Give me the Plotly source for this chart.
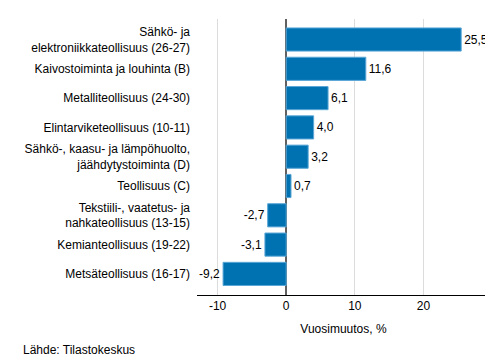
import plotly.graph_objects as go

categories = [
    "Sähkö- ja<br>elektroniikkateollisuus (26-27)",
    "Kaivostoiminta ja louhinta (B)",
    "Metalliteollisuus (24-30)",
    "Elintarviketeollisuus (10-11)",
    "Sähkö-, kaasu- ja lämpöhuolto,<br>jäähdytystoiminta (D)",
    "Teollisuus (C)",
    "Tekstiili-, vaatetus- ja<br>nahkateollisuus (13-15)",
    "Kemianteollisuus (19-22)",
    "Metsäteollisuus (16-17)",
]
values = [25.5, 11.6, 6.1, 4.0, 3.2, 0.7, -2.7, -3.1, -9.2]
tick_vals = [-10, 0, 10, 20]
tick_text = ["-10", "0", "10", "20"]

labels = [f"{v:.1f}".replace(".", ",") for v in values]

FONT = "Arial, Liberation Sans, sans-serif"

fig = go.Figure(go.Bar(
    x=values, y=categories, orientation="h",
    marker=dict(color="#0072b1", line=dict(color="#5aa6d6", width=1)),
    text=labels, textposition="outside", cliponaxis=False,
    textfont=dict(size=12, color="#000000", family=FONT),
    width=0.79,
))

fig.update_layout(
    template="none",
    width=493, height=360,
    margin=dict(l=189, r=11, t=11, b=73, pad=0),
    paper_bgcolor="white", plot_bgcolor="white",
    font=dict(family=FONT, size=12, color="#000000"),
    showlegend=False,
    xaxis=dict(
        range=[-13, 29.7], tickvals=tick_vals, ticktext=tick_text, ticks="",
        showgrid=True, gridcolor="#dcdcdc", gridwidth=1,
        zeroline=True, zerolinecolor="#606060", zerolinewidth=1.5,
        showline=True, linecolor="#000000", linewidth=1,
        automargin=False,
        title=dict(text="Vuosimuutos, %", standoff=12, font=dict(size=12, family=FONT)),
        tickfont=dict(size=12, family=FONT),
    ),
    yaxis=dict(
        categoryorder="array", categoryarray=categories,
        autorange=False, range=[8.72, -0.7],
        showgrid=False, zeroline=False, showline=False, ticks="",
        automargin=False,
        ticklabelstandoff=6, tickfont=dict(size=12, family=FONT),
    ),
    annotations=[dict(
        text="Lähde: Tilastokeskus", xref="paper", yref="paper",
        x=-176/293, y=-55/276, xanchor="left", yanchor="middle",
        showarrow=False, font=dict(size=12, family=FONT),
    )],
)

fig.write_html("out.html")
